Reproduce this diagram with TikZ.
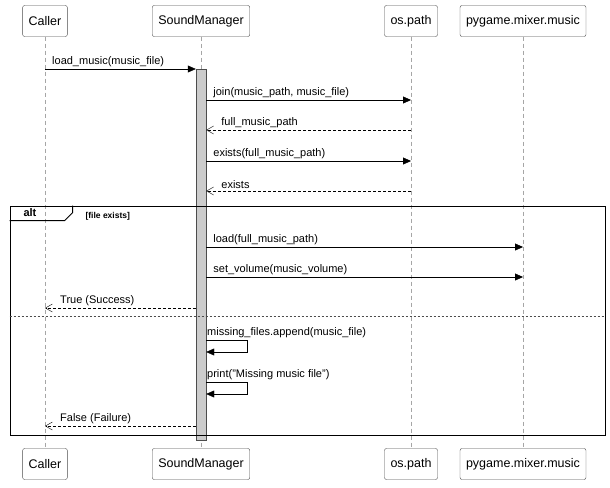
\documentclass[tikz,border=0pt]{standalone}
\usepackage{fontspec}
\setmainfont{Liberation Sans}
\usetikzlibrary{arrows.meta,positioning}

\begin{document}
\begin{tikzpicture}[%
        x=1pt, y=-1pt,
        part/.style={draw=black!70, rounded corners=2pt, fill=white, minimum height=31pt,
                     inner xsep=6pt, font=\fontsize{12.5}{14}\selectfont},
        life/.style={draw=black!35, dashed, dash pattern=on 4pt off 3pt},
        call/.style={-{Triangle[length=8pt,width=7pt]}},
        ret/.style={dashed, dash pattern=on 3pt off 2pt, -{Straight Barb[length=7pt,width=8pt]}},
        lbl/.style={font=\fontsize{11}{13}\selectfont, anchor=south west, inner sep=1pt, yshift=1.5pt}
        ]

        \useasboundingbox (0,0) rectangle (610,487);

        % participants, top and bottom
        \foreach \name/\txt/\cx in {caller/Caller/45, sound/SoundManager/201, path/os.path/411, mixer/pygame.mixer.music/523} {
            \node[part] (\name T) at (\cx,21) {\txt};
            \node[part] (\name B) at (\cx,464) {\txt};
            \draw[life] (\name T) -- (\name B);
        }

        % activation
        \node[draw=black!70, fill=black!20, minimum width=10pt, minimum height=371pt, inner sep=0pt] (act) at (201,254.5) {};

        % alt frame
        \node[draw, thick, minimum width=595pt, minimum height=229pt, inner sep=0pt] (alt) at (307.5,320.5) {};
        \draw[thick] (alt.north west) ++(0,15) -- ++(55,0) -- ++(8,-8) -- ++(0,-7);
        \node[font=\bfseries\fontsize{11}{13}\selectfont, anchor=west] at (20,213) {alt};
        \node[font=\bfseries\fontsize{8.5}{10}\selectfont, anchor=west] at (82,216) {[file exists]};
        \draw[dashed, dash pattern=on 2pt off 2pt, black!70] (alt.west |- 0,316) -- (alt.east |- 0,316);

        % messages
        \draw[call] (callerT |- 0,69) -- (act.west |- 0,69) node[lbl, pos=0, xshift=6pt] {load\_music(music\_file)};
        \draw[call] (act.east |- 0,100) -- (pathT |- 0,100) node[lbl, pos=0, xshift=6pt] {join(music\_path, music\_file)};
        \draw[ret] (pathT |- 0,130) -- (act.east |- 0,130) node[lbl, pos=1, xshift=14pt] {full\_music\_path};
        \draw[call] (act.east |- 0,161) -- (pathT |- 0,161) node[lbl, pos=0, xshift=6pt] {exists(full\_music\_path)};
        \draw[ret] (pathT |- 0,191) -- (act.east |- 0,191) node[lbl, pos=1, xshift=14pt] {exists};
        \draw[call] (act.east |- 0,247) -- (mixerT |- 0,247) node[lbl, pos=0, xshift=6pt] {load(full\_music\_path)};
        \draw[call] (act.east |- 0,277) -- (mixerT |- 0,277) node[lbl, pos=0, xshift=6pt] {set\_volume(music\_volume)};
        \draw[ret] (act.west |- 0,308) -- (callerT |- 0,308) node[lbl, pos=1, xshift=14pt] {True (Success)};
        \draw[call] (act.east |- 0,340) -- ++(41,0) -- ++(0,12) -- (act.east |- 0,352);
        \node[lbl] at (206,340) {missing\_files.append(music\_file)};
        \draw[call] (act.east |- 0,382) -- ++(41,0) -- ++(0,12) -- (act.east |- 0,394);
        \node[lbl] at (206,382) {print("Missing music file")};
        \draw[ret] (act.west |- 0,426) -- (callerT |- 0,426) node[lbl, pos=1, xshift=14pt] {False (Failure)};

\end{tikzpicture}
\end{document}
